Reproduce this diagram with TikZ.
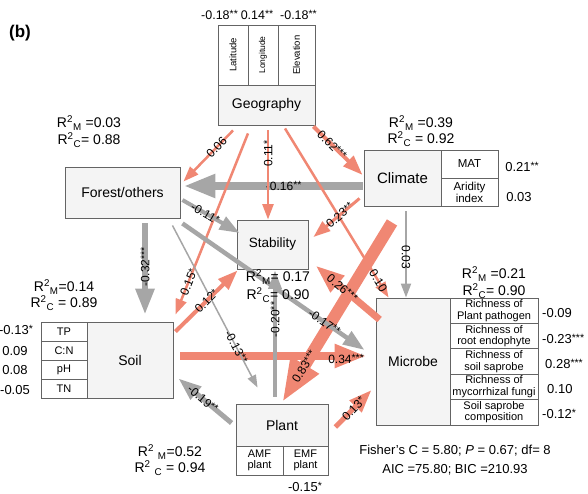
\documentclass[tikz,border=0pt]{standalone}
\usepackage{fontspec}
\setmainfont{Liberation Sans}
\usepackage{xcolor}
\usetikzlibrary{arrows.meta}

\definecolor{salmon}{RGB}{240,135,115}
\definecolor{grayarr}{RGB}{166,166,166}
\definecolor{boxfill}{RGB}{244,244,244}
\definecolor{boxline}{RGB}{100,100,100}
\newcommand{\fsz}[1]{\fontsize{#1}{#1}\selectfont}
\newcommand{\rsq}[1]{R\textsuperscript{2}\textsubscript{#1}}
\newcommand{\st}[1]{\raisebox{1.5pt}{\fsz{10.5}#1}}

\tikzset{
  blk/.style={draw=boxline, fill=boxfill, line width=0.9pt, inner sep=0pt, font=\fsz{14}},
  subblk/.style={draw=boxline, fill=white, line width=0.9pt, inner sep=0pt, align=center, font=\fontsize{11}{11.5}\selectfont},
  posarr/.style={color=salmon, line width=#1, -{Triangle[length=8pt 3, width=6pt 2]}},
  negarr/.style={color=grayarr, line width=#1, -{Triangle[length=8pt 3, width=6pt 2]}},
  coef/.style={text=black, font=\fsz{12}, inner sep=0pt, sloped},
  coefv/.style={text=black, font=\fsz{12}, inner sep=0pt, rotate=90},
  rlab/.style={font=\fsz{14}, inner sep=0pt},
  val/.style={font=\fsz{13}, inner sep=0pt}
}

\begin{document}
\begin{tikzpicture}[x=1pt, y=-1pt]
  \useasboundingbox (0,0) rectangle (588,494);
  \node[font=\bfseries\fsz{17}] (tag) at (20,33) {(b)};

  % Geography
  \node[subblk, rotate=90, minimum width=60pt, minimum height=30pt, font=\fsz{9.5}] (latd) at (233,55) {Latitude};
  \node[subblk, rotate=90, minimum width=60pt, minimum height=30pt, font=\fsz{8.5}] (longd) at (263,55) {Longitude};
  \node[subblk, rotate=90, minimum width=60pt, minimum height=37pt, font=\fsz{9.5}] (elev) at (296.5,55) {Elevation};
  \node[blk, minimum width=97pt, minimum height=40pt] (geo) at (266.5,105) {Geography};
  \node[font=\fsz{12.5}, inner sep=0pt, anchor=west] (vlat) at (201,15) {-0.18\st{**}};
  \node[font=\fsz{12.5}, inner sep=0pt] (vlon) at (257,15) {0.14\st{**}};
  \node[font=\fsz{12.5}, inner sep=0pt, anchor=east] (vele) at (317,15) {-0.18\st{**}};

  % Forest/others
  \node[blk, minimum width=115pt, minimum height=51pt] (forest) at (122.5,192.5) {Forest/others};
  \node[rlab] (rform) at (89,123) {\rsq{M} =0.03};
  \node[rlab] (rforc) at (89,140) {\rsq{C}= 0.88};

  % Climate
  \node[blk, minimum width=77pt, minimum height=56pt, font=\fsz{15}] (clim) at (402.5,178) {Climate};
  \node[subblk, minimum width=57pt, minimum height=28pt, font=\fsz{11.5}] (mat) at (469.5,164) {MAT};
  \node[subblk, minimum width=57pt, minimum height=28pt, font=\fontsize{11.5}{12}\selectfont] (arid) at (469.5,192) {Aridity\\index};
  \node[val] (vmat) at (522,167) {0.21\st{**}};
  \node[val] (varid) at (519,197) {0.03};
  \node[rlab] (rclim) at (421,123) {\rsq{M} =0.39};
  \node[rlab] (rclic) at (421,139) {\rsq{C} = 0.92};

  % Stability
  \node[blk, minimum width=71pt, minimum height=49pt, font=\fsz{13.5}] (stab) at (272.5,244.5) {Stability};

  % Soil
  \node[blk, minimum width=86pt, minimum height=76pt] (soil) at (130,360) {Soil};
  \node[subblk, minimum width=46pt, minimum height=19pt] (tp) at (64,331.5) {TP};
  \node[subblk, minimum width=46pt, minimum height=19pt] (cn) at (64,350.5) {C:N};
  \node[subblk, minimum width=46pt, minimum height=19pt] (ph) at (64,369.5) {pH};
  \node[subblk, minimum width=46pt, minimum height=19pt] (tn) at (64,388.5) {TN};
  \node[val] (vtp) at (16,330) {-0.13\st{*}};
  \node[val] (vcn) at (15,351) {0.09};
  \node[val] (vph) at (15,370) {0.08};
  \node[val] (vtn) at (15,390) {-0.05};
  \node[rlab] (rsoim) at (64,287) {\rsq{M}=0.14};
  \node[rlab] (rsoic) at (64,303) {\rsq{C} = 0.89};

  % Plant
  \node[blk, minimum width=92pt, minimum height=42pt] (plant) at (282,425) {Plant};
  \node[subblk, minimum width=47pt, minimum height=29pt] (amf) at (259.5,460.5) {AMF\\plant};
  \node[subblk, minimum width=45pt, minimum height=29pt] (emf) at (305.5,460.5) {EMF\\plant};
  \node[val] (vemf) at (305,487) {-0.15\st{*}};
  \node[rlab] (rplam) at (170,452) {R\textsuperscript{2} \textsubscript{M}=0.52};
  \node[rlab] (rplac) at (170,468) {R\textsuperscript{2} \textsubscript{C} = 0.94};

  % Microbe
  \node[blk, minimum width=74pt, minimum height=127pt] (micr) at (413,361.5) {Microbe};
  \node[subblk, minimum width=88pt, minimum height=25.4pt] (rpp) at (494,310.7) {Richness of\\Plant pathogen};
  \node[subblk, minimum width=88pt, minimum height=25.4pt] (rre) at (494,336.1) {Richness of\\root endophyte};
  \node[subblk, minimum width=88pt, minimum height=25.4pt] (rss) at (494,361.5) {Richness of\\soil saprobe};
  \node[subblk, minimum width=88pt, minimum height=25.4pt] (rmf) at (494,386.9) {Richness of\\mycorrhizal fungi};
  \node[subblk, minimum width=88pt, minimum height=25.4pt] (ssc) at (494,412.3) {Soil saprobe\\composition};
  \node[val, anchor=west] (vrpp) at (542,313) {-0.09};
  \node[val, anchor=west] (vrre) at (542,339) {-0.23\st{***}};
  \node[val, anchor=west] (vrss) at (545,364) {0.28\st{***}};
  \node[val, anchor=west] (vrmf) at (547,389) {0.10};
  \node[val, anchor=west] (vssc) at (542,414) {-0.12\st{*}};
  \node[rlab] (rmicm) at (494,274) {\rsq{M} =0.21};
  \node[rlab] (rmicc) at (494,291) {\rsq{C}= 0.90};

  % Fit statistics
  \node[font=\fsz{13}, inner sep=0pt] (fish) at (455,451) {Fisher's C = 5.80; \textit{P} = 0.67; df= 8};
  \node[font=\fsz{13}, inner sep=0pt] (aic) at (455,470) {AIC =75.80; BIC =210.93};

  % Paths
  \draw[negarr=8pt] ([xshift=-1pt,yshift=-8pt]clim.west) -- ([xshift=3pt,yshift=6.5pt]forest.east) node[coef, pos=0.44] {-0.16\st{**}};
  \draw[posarr=2.5pt] ([xshift=-33.5pt,yshift=-5pt]geo.south) -- ([xshift=3pt,yshift=-15pt]forest.north east) node[coef, pos=0.33] {0.06};
  \draw[posarr=2.5pt] ([xshift=-18.5pt,yshift=-8pt]geo.south) -- ([xshift=2pt,yshift=7pt]soil.north east) node[coef, pos=0.82] {0.15\st{*}};
  \draw[posarr=2.5pt] ([xshift=1.5pt,yshift=-5pt]geo.south) -- ([xshift=-4.5pt]stab.north) node[coefv, pos=0.26] {0.11\st{*}};
  \draw[posarr=4pt] ([xshift=-2pt,yshift=-1pt]geo.south east) -- ([xshift=-1pt,yshift=3pt]clim.west) node[coef, pos=0.38] {0.62\st{***}};
  \draw[posarr=2.5pt] ([xshift=18.5pt,yshift=-3pt]geo.south) -- ([xshift=13pt]micr.north west) node[coef, pos=0.9] {0.10};
  \draw[negarr=2pt] ([xshift=3.5pt,yshift=-5pt]clim.south) -- ([xshift=-7pt]micr.north) node[coef, pos=0.53] {0.03};
  \draw[negarr=4pt] ([xshift=2pt,yshift=-7.5pt]forest.east) -- ([xshift=3pt,yshift=11.5pt]stab.west) node[coef, pos=0.4] {-0.11\st{*}};
  \draw[negarr=6pt] ([xshift=22.5pt,yshift=-5pt]forest.south) -- ([xshift=15pt,yshift=7pt]soil.north) node[coefv, pos=0.48] {-0.32\st{***}};
  \draw[posarr=3pt] ([xshift=-4pt,yshift=8pt]clim.south west) -- ([xshift=5pt,yshift=7.5pt]stab.east) node[coef, pos=0.43] {0.23\st{**}};
  \draw[posarr=8pt] ([xshift=7pt,yshift=4pt]soil.east) -- ([xshift=-9pt,yshift=5.5pt]micr.west) node[coef, pos=0.89, yshift=-3pt] {0.34\st{***}};
  \draw[negarr=1.5pt] ([xshift=-8pt,yshift=-7pt]forest.south east) -- ([xshift=22pt,yshift=16pt]plant.north west) node[coef, pos=0.75] {-0.13\st{**}};
  \draw[posarr=4pt] ([xshift=2pt,yshift=-10pt]soil.north east) -- ([xshift=1pt,yshift=-1pt]stab.south west) node[coef, pos=0.5] {0.12\st{*}};
  \draw[negarr=5pt] ([xshift=-4pt,yshift=2pt]plant.west) -- ([xshift=5pt,yshift=20pt]soil.south east) node[coef, pos=0.54] {-0.19\st{**}};
  \draw[negarr=3.5pt] ([xshift=-7pt,yshift=7pt]plant.north) -- ([xshift=2.5pt,yshift=-1pt]stab.south) node[coef, pos=0.61] {-0.20\st{**}};
  \draw[posarr=12pt] ([xshift=-10.5pt,yshift=-16pt]clim.south) -- ([yshift=1pt]plant.north) node[coef, pos=0.8] {0.83\st{***}};
  \draw[negarr=4.5pt] ([xshift=2pt,yshift=-5pt]forest.south east) -- ([xshift=-11pt,yshift=11.5pt]micr.west) node[coef, pos=0.78] {-0.17\st{**}};
  \draw[posarr=7pt] ([xshift=4pt,yshift=-22pt]micr.north west) -- ([xshift=7pt,yshift=4pt]stab.south east) node[coef, pos=0.58] {0.26\st{***}};
  \draw[posarr=5pt] ([xshift=7pt,yshift=-2pt]plant.east) -- ([xshift=-4pt,yshift=-28.5pt]micr.west) node[coef, pos=0.5] {0.13\st{*}};

  % R2 of Stability, above the paths
  \node[rlab] (rstam) at (278,277) {\rsq{M}= 0.17};
  \node[rlab] (rstac) at (278,295) {\rsq{C}= 0.90};
\end{tikzpicture}
\end{document}
